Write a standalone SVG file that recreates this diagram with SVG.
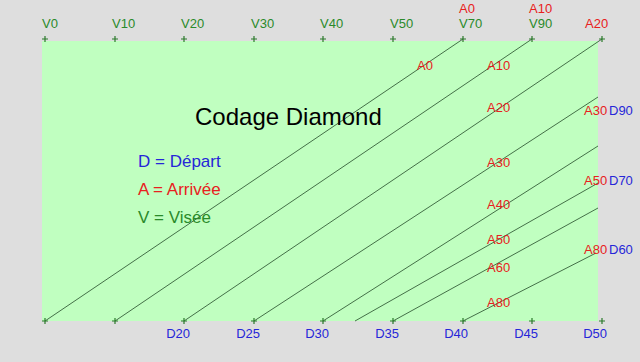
<svg xmlns="http://www.w3.org/2000/svg" width="640" height="362" viewBox="0 0 640 362">
<style>
text{font-family:"Liberation Sans",Arial,sans-serif;font-size:13px}
.v{fill:#2a8a2a}
.a{fill:#e82020}
.d{fill:#2626d8}
.dr{text-anchor:end}
.p{stroke:#2a7a2a;stroke-width:1.2;fill:none}
.ln{stroke:#35603a;stroke-width:0.9;fill:none}
.t{font-size:24px;fill:#000}
.lg{font-size:17px}
</style>
<defs>
<path id="plus" class="p" d="M-3,0H3M0,-3V3"/>
</defs>
<rect width="640" height="362" fill="#dedede"/>
<rect id="board" x="42" y="41" width="556" height="280" fill="#c0ffc0"/>
<g id="connectors">
<line class="ln" x1="45" y1="321" x2="463" y2="39"/>
<line class="ln" x1="115" y1="321" x2="532" y2="39"/>
<line class="ln" x1="184" y1="321" x2="602" y2="39"/>
<line class="ln" x1="254" y1="321" x2="598" y2="97"/>
<line class="ln" x1="323" y1="321" x2="598" y2="146"/>
<line class="ln" x1="355" y1="321" x2="598" y2="183"/>
<line class="ln" x1="393" y1="321" x2="598" y2="208"/>
<line class="ln" x1="463" y1="321" x2="596" y2="253"/>
</g>
<g id="top">
<g id="t0"><use href="#plus" x="45" y="39"/><text class="v" x="42" y="28">V0</text></g>
<g id="t1"><use href="#plus" x="115" y="39"/><text class="v" x="112" y="28">V10</text></g>
<g id="t2"><use href="#plus" x="184" y="39"/><text class="v" x="181" y="28">V20</text></g>
<g id="t3"><use href="#plus" x="254" y="39"/><text class="v" x="251" y="28">V30</text></g>
<g id="t4"><use href="#plus" x="323" y="39"/><text class="v" x="320" y="28">V40</text></g>
<g id="t5"><use href="#plus" x="393" y="39"/><text class="v" x="390" y="28">V50</text></g>
<g id="t6"><use href="#plus" x="463" y="39"/><text class="v" x="459" y="28">V70</text><text class="a" x="459" y="13">A0</text></g>
<g id="t7"><use href="#plus" x="532" y="39"/><text class="v" x="529" y="28">V90</text><text class="a" x="529" y="13">A10</text></g>
<g id="t8"><use href="#plus" x="602" y="39"/><text class="a" x="585" y="28">A20</text></g>
</g>
<g id="bottom">
<g id="b0"><use href="#plus" x="45" y="321"/></g>
<g id="b1"><use href="#plus" x="115" y="321"/></g>
<g id="b2"><use href="#plus" x="184" y="321"/><text class="d dr" x="190" y="338">D20</text></g>
<g id="b3"><use href="#plus" x="254" y="321"/><text class="d dr" x="260" y="338">D25</text></g>
<g id="b4"><use href="#plus" x="323" y="321"/><text class="d dr" x="329" y="338">D30</text></g>
<g id="b5"><use href="#plus" x="393" y="321"/><text class="d dr" x="399" y="338">D35</text></g>
<g id="b6"><use href="#plus" x="463" y="321"/><text class="d dr" x="468" y="338">D40</text></g>
<g id="b7"><use href="#plus" x="532" y="321"/><text class="d dr" x="538" y="338">D45</text></g>
<g id="b8"><use href="#plus" x="602" y="321"/><text class="d dr" x="607" y="338">D50</text></g>
</g>
<g id="right">
<g id="r1"><text class="a" x="584" y="115">A30</text><text class="d" x="609" y="115">D90</text></g>
<g id="r2"><text class="a" x="584" y="185">A50</text><text class="d" x="609" y="185">D70</text></g>
<g id="r3"><text class="a" x="584" y="254">A80</text><text class="d" x="609" y="254">D60</text></g>
</g>
<g id="inner">
<text class="a" x="417" y="70">A0</text>
<text class="a" x="487" y="70">A10</text>
<text class="a" x="487" y="112">A20</text>
<text class="a" x="487" y="167">A30</text>
<text class="a" x="487" y="209">A40</text>
<text class="a" x="487" y="244">A50</text>
<text class="a" x="487" y="272">A60</text>
<text class="a" x="487" y="307">A80</text>
</g>
<g id="legend">
<text class="t" x="195" y="125">Codage Diamond</text>
<text class="lg d" x="138" y="167">D = Départ</text>
<text class="lg a" x="138" y="195">A = Arrivée</text>
<text class="lg v" x="138" y="223">V = Visée</text>
</g>
</svg>
